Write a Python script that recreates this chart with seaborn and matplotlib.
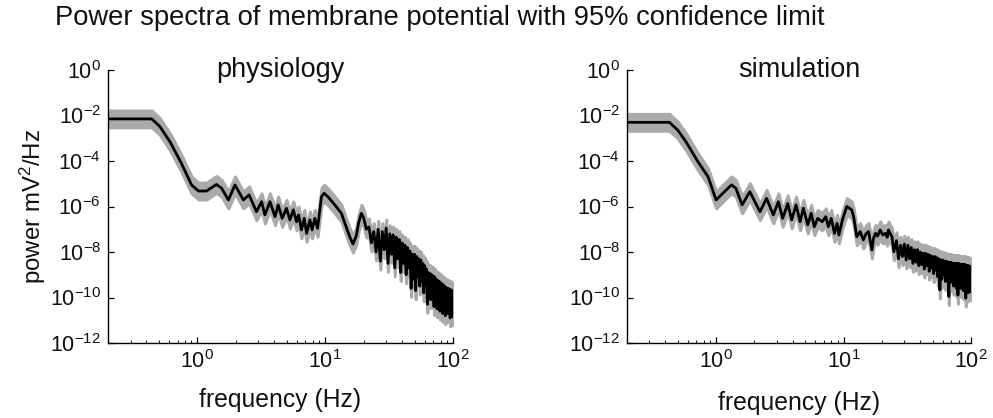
import numpy as np
import pandas as pd
import matplotlib
matplotlib.use("Agg")
import matplotlib.pyplot as plt
import seaborn as sns
from matplotlib.ticker import LogLocator, NullLocator, FixedLocator

# ---------------- data ----------------
title_text = "Power spectra of membrane potential with 95% confidence limit"
panel_titles = ["physiology", "simulation"]
x_label = "frequency (Hz)"
y_label = "power mV$^2$/Hz"

# confidence band: multiplicative half width, in decades
ci_half_decades = 0.37

freq_phys = [0.2, 0.44, 0.51, 0.61, 0.75, 0.9, 1.02, 1.18, 1.41, 1.55, 1.75, 1.97,
             2.29, 2.54, 2.9, 3.18, 3.38, 3.7, 4.05, 4.29, 4.61, 4.98, 5.3, 5.63,
             5.97, 6.2, 6.52, 6.86, 7.16, 7.6, 7.9, 8.3, 8.72, 9.35, 9.8, 10.5,
             11.9, 13.4, 14.6, 15.5, 16.5, 17.5, 18.3, 19.2, 20.0, 21.0,
             22, 23, 24, 25, 26, 27, 28, 29, 30, 31, 32, 33, 34, 35, 36, 37, 38, 39,
             40, 41, 42, 43, 44, 45, 46, 47, 48, 49, 50, 51, 52, 53, 54, 55, 56, 57,
             58, 59, 60, 61, 62, 63, 64, 65, 66, 67, 68, 69, 70, 71, 72, 73, 74, 75,
             76, 77, 78, 79, 80, 81, 82, 83, 84, 85, 86, 87, 88, 89, 90, 91, 92, 93,
             94, 95, 96, 97, 98, 99, 100]
logpow_phys = [-2.15, -2.15, -2.49, -3.15, -4.1, -5.05, -5.32, -5.32, -5.03, -5.2, -5.71, -5.05,
               -5.71, -5.49, -6.23, -5.79, -6.37, -5.79, -6.45, -5.93, -6.52, -6.08, -6.59, -6.15,
               -6.67, -6.37, -7.03, -6.52, -7.18, -6.59, -7.03, -6.52, -6.96, -5.57, -5.42, -5.57,
               -5.93, -6.3, -6.9, -7.3, -7.65, -7.3, -6.7, -6.3, -6.5, -7.0,
               -6.9, -7.6, -7.1, -8.0, -7.0, -8.4, -7.1, -7.9, -6.95, -8.5, -7.2, -8.1, -7.25, -8.7,
               -7.35, -8.3, -7.45, -8.9,
               -7.6, -8.5, -7.7, -9.0, -7.8, -8.7, -7.95, -9.6, -8.1, -9.2, -8.1, -9.7, -8.2, -9.1,
               -8.3, -9.5, -8.35, -9.3,
               -8.5, -9.8, -8.6, -9.4, -8.75, -10.3, -8.9, -9.7, -8.95, -10.1, -9.0, -9.8, -9.05,
               -10.4, -9.1, -9.9, -9.2, -10.5,
               -9.25, -10.0, -9.3, -10.6, -9.35, -10.1, -9.4, -10.7, -9.45, -10.2, -9.5, -10.8,
               -9.55, -10.3, -9.6, -10.7, -9.6, -10.4,
               -9.65, -10.9, -9.65, -10.5, -9.7, -10.85, -9.9]

freq_sim = [0.2, 0.43, 0.5, 0.58, 0.72, 0.865, 1.0, 1.32, 1.43, 1.6, 1.84, 2.21,
            2.49, 2.81, 3.08, 3.33, 3.65, 3.92, 4.24, 4.56, 4.84, 5.24, 5.57, 5.9,
            6.27, 6.8, 7.25, 7.6, 8.0, 8.5, 8.9, 9.2, 9.8, 10.6, 11.6, 12.0,
            12.7, 13.5, 14.3, 15.0, 15.7, 16.2, 16.7, 17.2, 17.8, 18.5, 19.4, 20.3,
            21.3, 22.0, 22.5, 23.3, 24.0, 24.8,
            26, 27, 28, 29, 30, 31, 32, 33, 34, 35, 36, 37, 38, 39,
            40, 41, 42, 43, 44, 45, 46, 47, 48, 49, 50, 51, 52, 53, 54, 55, 56, 57,
            58, 59, 60, 61, 62, 63, 64, 65, 66, 67, 68, 69, 70, 71, 72, 73, 74, 75,
            76, 77, 78, 79, 80, 81, 82, 83, 84, 85, 86, 87, 88, 89, 90, 91, 92, 93,
            94, 95, 96, 97, 98, 99, 100]
logpow_sim = [-2.3, -2.3, -2.64, -3.15, -4.03, -4.69, -5.71, -5.05, -5.2, -5.93, -5.35, -6.23,
              -5.64, -6.37, -5.79, -6.52, -5.87, -6.59, -5.93, -6.67, -6.08, -6.81, -6.3, -6.89,
              -6.52, -6.67, -6.45, -6.89, -6.52, -7.18, -6.74, -7.25, -6.59, -6.0, -6.15, -6.45,
              -7.33, -7.1, -7.47, -7.2, -7.1, -7.5, -7.91, -7.4, -7.18, -7.3, -7.03, -7.25,
              -7.18, -7.35, -7.03, -7.2, -7.33, -7.99,
              -7.5, -8.3, -7.7, -8.2, -7.65, -8.35, -7.7, -8.3, -7.8, -8.5, -7.9, -8.45, -7.9, -8.6,
              -8.0, -8.55, -8.05, -8.75, -8.05, -8.6, -8.1, -8.85, -8.15, -8.7, -8.2, -8.95,
              -8.2, -8.8, -8.25, -9.1, -8.3, -9.67,
              -8.35, -9.2, -8.35, -9.0, -8.4, -9.3, -8.4, -9.1, -8.45, -9.96, -8.45, -9.35,
              -8.45, -9.2, -8.5, -9.5, -8.5, -9.3,
              -8.5, -9.6, -8.5, -9.9, -8.5, -9.4, -8.55, -9.6, -8.55, -9.4, -8.55, -9.7,
              -8.55, -9.5, -8.55, -10.03, -8.6, -9.6,
              -8.6, -9.8, -8.6, -9.5, -8.65, -9.75, -8.65]

x_limits = (0.2, 100)
y_limits = (1e-12, 1e0)
y_tick_exponents = [0, -2, -4, -6, -8, -10, -12]

# ---------------- style ----------------
sns.set_style("ticks")
plt.rcParams["font.family"] = ["Liberation Sans", "DejaVu Sans"]
plt.rcParams["mathtext.default"] = "regular"
text_color = "#111111"
band_color = "#aaaaaa"

W, H = 993, 418
fig = plt.figure(figsize=(W / 100, H / 100), dpi=100)

panels = [
    (pd.DataFrame({"freq": freq_phys, "power": 10.0 ** np.array(logpow_phys)}), 108, 453),
    (pd.DataFrame({"freq": freq_sim, "power": 10.0 ** np.array(logpow_sim)}), 627, 971),
]
ax_top, ax_bot = 70, 343
xlabel_y = [400, 403]

for i, (df, xl, xr) in enumerate(panels):
    ax = fig.add_axes([xl / W, 1 - ax_bot / H, (xr - xl) / W, (ax_bot - ax_top) / H])
    fac = 10.0 ** ci_half_decades
    ax.fill_between(df["freq"], df["power"] * fac, df["power"] / fac,
                    color=band_color, linewidth=2.2, edgecolor=band_color,
                    joinstyle="round", zorder=1)
    sns.lineplot(data=df, x="freq", y="power", ax=ax, color="black",
                 linewidth=2.0, estimator=None, sort=False, zorder=2)
    ax.set_xscale("log")
    ax.set_yscale("log")
    ax.set_xlim(*x_limits)
    ax.set_ylim(*y_limits)
    ax.yaxis.set_major_locator(FixedLocator([10.0 ** e for e in y_tick_exponents]))
    ax.yaxis.set_minor_locator(NullLocator())
    ax.xaxis.set_major_locator(FixedLocator([1, 10, 100]))
    ax.xaxis.set_minor_locator(LogLocator(base=10, subs=np.arange(2, 10), numticks=20))
    ax.tick_params(axis="both", which="major", direction="in", length=4.5, width=0.9,
                   colors="black", labelcolor=text_color, labelsize=15.5, pad=5)
    ax.tick_params(axis="x", which="minor", direction="in", length=2.5, width=0.8)
    sns.despine(ax=ax)
    for sp in ["left", "bottom"]:
        ax.spines[sp].set_linewidth(1.0)
        ax.spines[sp].set_color("black")
        ax.spines[sp].set_zorder(3)
    ax.set_xlabel("")
    ax.set_ylabel("")
    ax.patch.set_alpha(0)
    ax.text(0.5, 1.0, panel_titles[i], transform=ax.transAxes, ha="center",
            va="center", fontsize=19.5, color=text_color)
    fig.text((xl + xr) / 2 / W, 1 - xlabel_y[i] / H, x_label, ha="center",
             va="center", fontsize=17.8, color=text_color)

fig.text(33 / W, 1 - 206 / H, y_label, rotation=90, ha="center", va="center",
         fontsize=17.3, color=text_color)
fig.text(55 / W, 1 - 18 / H, title_text, ha="left", va="center", fontsize=19.7,
         color=text_color)

fig.savefig("out.png", dpi=100)
